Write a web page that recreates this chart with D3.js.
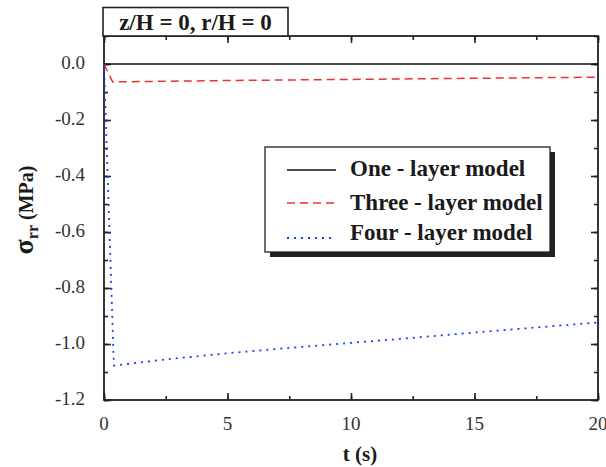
<!DOCTYPE html>
<html>
<head>
<meta charset="utf-8">
<script src="https://cdn.jsdelivr.net/npm/d3@7"></script>
<style>
  html, body { margin: 0; padding: 0; background: #fff; }
  svg { display: block; }
  svg text { font-family: "Liberation Serif", "Times New Roman", Times, serif; }
</style>
</head>
<body>
<svg id="chart" width="606" height="467"></svg>
<script>
// Radial stress at z/H = 0, r/H = 0 versus time for three layered models
const timeOne = [0, 20];
const stressOne = [0, 0];

const timeThree = [0, 0.35, 5, 10, 15, 20];
const stressThree = [0, -0.064, -0.059, -0.055, -0.051, -0.047];

const timeFour = [0, 0.4, 2.5, 5, 7.5, 10, 12.5, 15, 17.5, 20];
const stressFour = [0, -1.077, -1.055, -1.033, -1.014, -0.996, -0.978, -0.959, -0.941, -0.923];

const seriesNames = ["One - layer model", "Three - layer model", "Four - layer model"];
const xTickValues = [0, 5, 10, 15, 20];
const yTickValues = [0.0, -0.2, -0.4, -0.6, -0.8, -1.0, -1.2];
const titleText = "z/H = 0, r/H = 0";

const svg = d3.select("#chart");
const plotLeft = 104, plotRight = 598, plotTop = 36, plotBottom = 400;

const x = d3.scaleLinear().domain([0, 20]).range([plotLeft, plotRight]);
const y = d3.scaleLinear().domain([-1.2, 0.1]).range([plotBottom, plotTop]);

const axisColor = "#222";

// Minor ticks every 2.5 s and 0.1 MPa, major ticks at labelled values
const xMinor = d3.range(0, 20.001, 2.5);
const yMinor = d3.range(-1.2, 0.1001, 0.1).map(v => +v.toFixed(2));

function tickGroup(axis) {
  return g => {
    g.call(axis);
    g.select(".domain").remove();
    g.selectAll("line").attr("stroke", axisColor).attr("stroke-width", 1.6);
    g.selectAll("text").remove();
  };
}

// bottom ticks (inward)
svg.append("g").attr("transform", `translate(0,${plotBottom})`)
  .call(tickGroup(d3.axisBottom(x).tickValues(xMinor).tickSizeInner(-4).tickSizeOuter(0)));
svg.append("g").attr("transform", `translate(0,${plotBottom})`)
  .call(tickGroup(d3.axisBottom(x).tickValues(xTickValues).tickSizeInner(-7).tickSizeOuter(0)));
// top ticks
svg.append("g").attr("transform", `translate(0,${plotTop})`)
  .call(tickGroup(d3.axisTop(x).tickValues(xMinor).tickSizeInner(-4).tickSizeOuter(0)));
svg.append("g").attr("transform", `translate(0,${plotTop})`)
  .call(tickGroup(d3.axisTop(x).tickValues(xTickValues).tickSizeInner(-7).tickSizeOuter(0)));
// left ticks
svg.append("g").attr("transform", `translate(${plotLeft},0)`)
  .call(tickGroup(d3.axisLeft(y).tickValues(yMinor).tickSizeInner(-4).tickSizeOuter(0)));
svg.append("g").attr("transform", `translate(${plotLeft},0)`)
  .call(tickGroup(d3.axisLeft(y).tickValues(yTickValues).tickSizeInner(-7).tickSizeOuter(0)));
// right ticks
svg.append("g").attr("transform", `translate(${plotRight},0)`)
  .call(tickGroup(d3.axisRight(y).tickValues(yMinor).tickSizeInner(-4).tickSizeOuter(0)));
svg.append("g").attr("transform", `translate(${plotRight},0)`)
  .call(tickGroup(d3.axisRight(y).tickValues(yTickValues).tickSizeInner(-7).tickSizeOuter(0)));

// frame
svg.append("rect")
  .attr("x", plotLeft).attr("y", plotTop)
  .attr("width", plotRight - plotLeft).attr("height", plotBottom - plotTop)
  .attr("fill", "none").attr("stroke", axisColor).attr("stroke-width", 1.8);

// tick labels
svg.append("g").selectAll("text").data(xTickValues).join("text")
  .attr("x", d => x(d)).attr("y", 430)
  .attr("text-anchor", "middle")
  .attr("font-size", 19).attr("fill", "#333")
  .text(d => d3.format("d")(d));

svg.append("g").selectAll("text").data(yTickValues).join("text")
  .attr("x", 85).attr("y", d => y(d) + 5)
  .attr("text-anchor", "end")
  .attr("font-size", 19).attr("fill", "#333")
  .text(d => d3.format(".1f")(d).replace("−", "-"));

// curves
const line = d3.line().x(d => x(d[0])).y(d => y(d[1]));
const zip = (a, b) => a.map((t, i) => [t, b[i]]);

const styles = [
  { color: "#111", dash: null, width: 1.3 },
  { color: "#f03030", dash: "8,5", width: 1.5 },
  { color: "#1a3cff", dash: "2,5", width: 1.8 }
];
const data = [zip(timeOne, stressOne), zip(timeThree, stressThree), zip(timeFour, stressFour)];

data.forEach((d, i) => {
  svg.append("path").datum(d)
    .attr("d", line)
    .attr("fill", "none")
    .attr("stroke", styles[i].color)
    .attr("stroke-width", styles[i].width)
    .attr("stroke-dasharray", styles[i].dash);
});

// title box
svg.append("rect")
  .attr("x", 103).attr("y", 7.5).attr("width", 185).attr("height", 28.5)
  .attr("fill", "#fff").attr("stroke", axisColor).attr("stroke-width", 1.6);
svg.append("text")
  .attr("x", 195.5).attr("y", 30)
  .attr("text-anchor", "middle")
  .attr("font-size", 23).attr("font-weight", "bold").attr("fill", "#1a1a1a")
  .text(titleText);

// legend with drop shadow
const lg = svg.append("g");
lg.append("rect").attr("x", 270).attr("y", 152).attr("width", 285).attr("height", 105).attr("fill", "#222");
lg.append("rect").attr("x", 265).attr("y", 147).attr("width", 285).attr("height", 105)
  .attr("fill", "#fff").attr("stroke", axisColor).attr("stroke-width", 1.3);

const rowText = [176, 210, 240];
const rowLine = [170, 203, 238];
seriesNames.forEach((name, i) => {
  lg.append("line")
    .attr("x1", 287).attr("x2", 336)
    .attr("y1", rowLine[i]).attr("y2", rowLine[i])
    .attr("stroke", styles[i].color)
    .attr("stroke-width", styles[i].width)
    .attr("stroke-dasharray", styles[i].dash);
  lg.append("text")
    .attr("x", 350).attr("y", rowText[i])
    .attr("font-size", 23).attr("font-weight", "bold").attr("fill", "#1a1a1a")
    .text(name);
});

// axis titles
svg.append("text")
  .attr("x", 360).attr("y", 461)
  .attr("text-anchor", "middle")
  .attr("font-size", 21).attr("font-weight", "bold").attr("fill", "#1a1a1a")
  .text("t (s)");

const yl = svg.append("text")
  .attr("transform", "translate(33,210) rotate(-90)")
  .attr("text-anchor", "middle")
  .attr("font-weight", "bold").attr("fill", "#1a1a1a");
yl.append("tspan").attr("font-size", 28).text("σ");
yl.append("tspan").attr("font-size", 16).attr("dy", 5).text("rr");
yl.append("tspan").attr("font-size", 20).attr("dy", -5).text(" (MPa)");
</script>
</body>
</html>
